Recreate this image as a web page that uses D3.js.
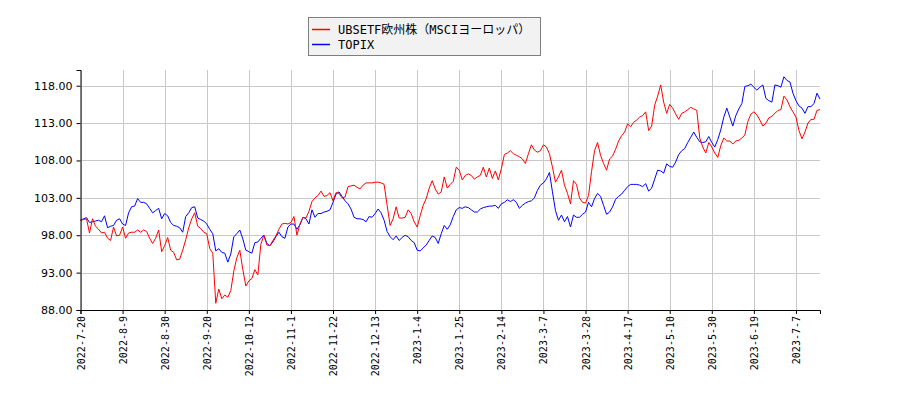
<!DOCTYPE html>
<html>
<head>
<meta charset="utf-8">
<script src="https://cdnjs.cloudflare.com/ajax/libs/d3/7.8.5/d3.min.js"></script>
<style>
  body { margin: 0; background: #fff; }
  .tick text { fill: #000; }
</style>
</head>
<body>
<div id="chart"></div>
<script>
// series names
var seriesNames = ["UBSETF欧州株（MSCIヨーロッパ）", "TOPIX"];

// x tick labels, one every 14 trading days
var tickDates = ["2022-7-20", "2022-8-9", "2022-8-30", "2022-9-20", "2022-10-12",
  "2022-11-1", "2022-11-22", "2022-12-13", "2023-1-4", "2023-1-25", "2023-2-14",
  "2023-3-7", "2023-3-28", "2023-4-17", "2023-5-10", "2023-5-30", "2023-6-19", "2023-7-7"];

var yTicks = [88, 93, 98, 103, 108, 113, 118];

// daily values (start = 100), one per trading day
var ubsValues = [
  100.0, 100.1, 100.2, 98.3, 100.2, 99.2, 98.8, 98.3, 98.4, 97.6,
  97.3, 99.1, 97.9, 98.0, 99.1, 97.6, 98.3, 98.4, 98.4, 98.7,
  98.4, 98.7, 98.5, 97.6, 96.9, 97.6, 98.7, 95.8, 96.6, 97.7,
  96.0, 95.7, 94.7, 94.8, 96.0, 97.4, 99.0, 100.2, 101.0, 99.2,
  98.9, 98.4, 98.2, 96.2, 95.6, 88.9, 90.8, 89.5, 90.0, 89.7,
  90.6, 93.2, 95.0, 96.0, 93.4, 91.2, 91.9, 92.2, 93.4, 92.7,
  96.8, 98.0, 96.7, 96.6, 97.3, 97.9, 98.8, 99.5, 99.6, 99.5,
  99.7, 100.5, 98.0, 99.5, 100.4, 100.3, 101.2, 102.5, 103.0, 103.3,
  103.9, 103.2, 103.3, 103.7, 102.6, 103.7, 103.6, 103.0, 103.1, 104.5,
  104.6, 104.7, 104.4, 104.2, 104.7, 105.0, 105.0, 105.0, 105.1, 105.1,
  105.0, 104.8, 102.0, 99.3, 100.2, 101.8, 100.3, 100.3, 100.4, 101.4,
  100.9, 99.8, 99.1, 100.6, 102.0, 102.9, 104.3, 105.3, 104.2, 103.5,
  103.8, 105.8, 104.3, 104.8, 105.2, 107.1, 106.7, 105.4, 106.0, 106.2,
  106.0, 105.5, 105.8, 106.0, 107.1, 105.8, 107.0, 105.6, 106.6, 105.4,
  106.9, 108.8, 109.0, 109.3, 108.9, 108.7, 108.5, 108.2, 107.6, 108.9,
  110.1, 109.4, 109.1, 109.3, 110.1, 109.8, 108.9, 107.1, 105.1, 105.8,
  106.7, 104.7, 103.6, 102.2, 105.3, 104.8, 103.0, 102.4, 102.3, 103.3,
  106.5, 109.3, 110.4, 108.7, 107.6, 106.7, 108.2, 108.6, 109.5, 110.6,
  111.3, 111.8, 112.9, 112.5, 113.1, 113.4, 113.8, 114.0, 114.5, 112.0,
  112.6, 115.4, 116.6, 118.1, 115.8, 114.3, 115.5, 115.0, 114.2, 113.5,
  114.3, 114.5, 114.8, 115.1, 114.9, 114.7, 111.0, 109.8, 109.0, 110.4,
  109.8, 109.0, 108.4, 110.0, 111.0, 110.6, 110.6, 110.2, 110.6, 110.7,
  111.0, 111.4, 113.2, 114.2, 114.5, 114.1, 113.4, 112.6, 113.0, 113.7,
  113.9, 114.3, 114.7, 114.8, 116.6, 116.1, 115.2, 114.5, 113.8, 112.0,
  110.9, 111.8, 113.0, 113.5, 113.5, 114.7, 114.8
];

var topixValues = [
  100.0, 100.2, 100.35, 99.7, 99.8, 99.9, 100.0, 99.8, 100.6, 99.0,
  99.2, 99.3, 100.0, 100.2, 99.5, 99.3, 101.0, 101.8, 101.9, 102.9,
  102.4, 102.4, 102.2, 101.6, 101.0, 101.3, 101.6, 100.2, 100.9, 100.6,
  99.7, 99.3, 99.2, 99.0, 98.4, 100.5, 101.0, 101.7, 101.8, 100.3,
  100.1, 99.9, 99.5, 98.8, 98.2, 95.9, 96.2, 95.7, 95.6, 94.4,
  95.5, 97.8, 98.2, 98.7, 97.5, 96.0, 95.8, 95.6, 97.0, 97.1,
  97.6, 98.0, 96.9, 96.6, 97.1, 97.8, 98.4, 97.8, 97.6, 99.1,
  99.5, 99.5, 98.8, 99.4, 100.4, 100.2, 99.5, 101.4, 100.4, 100.9,
  100.9, 101.1, 101.2, 101.4, 102.4, 103.5, 103.8, 103.2, 102.6, 102.2,
  101.5, 100.4, 100.2, 100.2, 100.1, 99.8, 100.5, 100.4, 100.9, 101.5,
  101.0, 100.0, 98.5, 97.8, 97.4, 97.9, 97.3, 97.7, 98.0, 97.8,
  97.3, 97.0, 96.0, 95.9, 96.3, 96.7, 97.3, 97.9, 97.7, 96.9,
  98.2, 99.3, 98.8, 99.4, 100.5, 101.4, 101.7, 101.6, 101.8, 101.7,
  101.4, 101.1, 101.1, 101.5, 101.7, 101.8, 101.9, 101.9, 102.0, 101.6,
  102.2, 102.4, 102.75, 102.5, 102.75, 102.4, 101.6, 102.0, 102.3, 102.5,
  102.6, 103.0, 104.0, 104.7, 105.0, 105.55, 106.4, 103.8, 101.3, 100.0,
  100.7, 99.8, 100.5, 99.1, 100.7, 100.4, 100.4, 100.8, 101.1, 102.4,
  101.8, 102.9, 103.6, 103.2, 102.0, 100.8, 101.1, 101.8, 102.8, 103.2,
  103.5, 104.0, 104.5, 104.8, 104.8, 104.8, 104.7, 104.5, 104.9, 103.9,
  104.3, 105.5, 106.7, 106.6, 106.3, 107.55, 107.2, 107.1, 107.8, 108.8,
  109.3, 109.6, 110.4, 111.1, 111.8, 111.1, 110.5, 110.4, 110.5, 111.2,
  110.4, 109.8, 110.8, 112.1, 113.8, 115.0, 113.8, 112.6, 114.0, 114.9,
  115.6, 117.9, 118.0, 118.2, 117.8, 117.4, 117.8, 118.1, 116.3, 116.0,
  115.8, 118.1, 118.0, 117.8, 119.2, 118.7, 118.5, 117.0, 116.0, 115.3,
  115.0, 114.3, 115.2, 115.2, 115.6, 117.0, 116.2
];

var svgWidth = 900;
var svgHeight = 400;

var margin = { top: 70, right: 80, bottom: 90, left: 80.5 };
var height = svgHeight - margin.top - margin.bottom;

var svg = d3.select("#chart")
  .append("svg")
  .attr("width", svgWidth)
  .attr("height", svgHeight);

// scales: x is the trading-day index
var xScale = d3.scaleLinear()
  .domain([0, ubsValues.length - 1])
  .range([margin.left, svgWidth - margin.right]);

var yScale = d3.scaleLinear()
  .domain([88, 120.1])
  .range([margin.top + height, margin.top]);

var tickIdx = tickDates.map((d, i) => i * 14);

// grid
var grid = svg.append("g").attr("stroke", "#c8c8c8").attr("stroke-width", 1);

grid.selectAll(".vgrid")
  .data(tickIdx)
  .enter()
  .append("line")
  .attr("x1", d => Math.round(xScale(d)) + 0.5)
  .attr("x2", d => Math.round(xScale(d)) + 0.5)
  .attr("y1", margin.top)
  .attr("y2", margin.top + height);

grid.selectAll(".hgrid")
  .data(yTicks)
  .enter()
  .append("line")
  .attr("x1", margin.left)
  .attr("x2", svgWidth - margin.right)
  .attr("y1", d => Math.round(yScale(d)) + 0.5)
  .attr("y2", d => Math.round(yScale(d)) + 0.5);

// lines
var line = d3.line()
  .x((d, i) => xScale(i))
  .y(d => yScale(d));

svg.append("path")
  .datum(topixValues)
  .attr("fill", "none")
  .attr("stroke", "#0000ff")
  .attr("stroke-width", 1)
  .attr("d", line);

svg.append("path")
  .datum(ubsValues)
  .attr("fill", "none")
  .attr("stroke", "#ff0000")
  .attr("stroke-width", 1)
  .attr("d", line);

// y axis
var leftAxis = d3.axisLeft(yScale)
  .tickValues(yTicks)
  .tickFormat(d3.format(".2f"))
  .tickSizeOuter(0)
  .tickSize(4)
  .tickPadding(4);

var yAxis = svg.append("g")
  .attr("transform", `translate(${margin.left}, 0)`)
  .call(leftAxis);

yAxis.selectAll("text")
  .style("font-family", "DejaVu Sans")
  .style("font-size", "11px");

// x axis
var bottomAxis = d3.axisBottom(xScale)
  .tickValues(tickIdx)
  .tickFormat((d, i) => tickDates[i])
  .tickSizeOuter(0)
  .tickSize(4);

var xAxis = svg.append("g")
  .attr("transform", `translate(0, ${margin.top + height})`)
  .call(bottomAxis);

xAxis.selectAll("text")
  .style("font-family", "DejaVu Sans Mono")
  .style("font-size", "10px")
  .attr("text-anchor", "end")
  .attr("dy", "0.35em")
  .attr("transform", "translate(0, 6) rotate(-90)")
  .attr("x", 0)
  .attr("y", 0);

svg.selectAll(".domain").attr("stroke", "#000");
svg.selectAll(".tick line").attr("stroke", "#000");

// legend
var legend = svg.append("g");

legend.append("rect")
  .attr("x", 308.5)
  .attr("y", 17.5)
  .attr("width", 232)
  .attr("height", 38)
  .attr("fill", "#f2f2f2")
  .attr("stroke", "#7f7f7f");

var legendColors = ["#ff0000", "#0000ff"];

seriesNames.forEach(function(name, i) {
  var ly = 29.5 + i * 15;
  legend.append("line")
    .attr("x1", 312)
    .attr("x2", 330)
    .attr("y1", ly)
    .attr("y2", ly)
    .attr("stroke", legendColors[i])
    .attr("stroke-width", 1.5);
  legend.append("text")
    .attr("x", 338)
    .attr("y", ly)
    .attr("dy", "0.35em")
    .style("font-family", "'DejaVu Sans Mono', 'Noto Sans CJK JP'")
    .style("font-size", "12px")
    .style("fill", "#000")
    .text(name);
});
</script>
</body>
</html>
